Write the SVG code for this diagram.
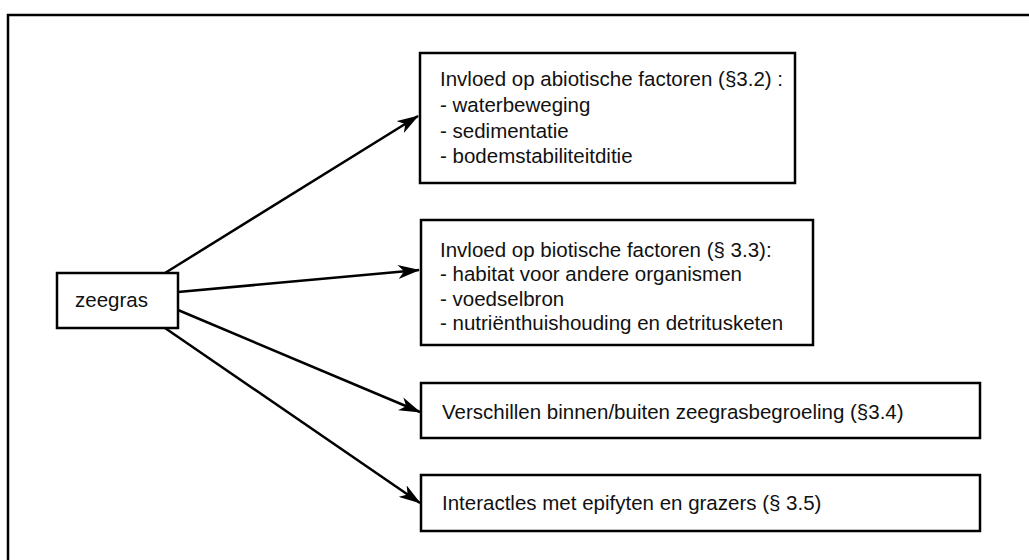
<svg xmlns="http://www.w3.org/2000/svg" width="1029" height="560" viewBox="0 0 1029 560">
<style>
.box{fill:#fff;stroke:#000;stroke-width:2.5}
.t{font-family:"Liberation Sans",Arial,sans-serif;font-size:20.5px;fill:#111}
.c{stroke:#000;stroke-width:2.5;fill:none}
</style>
<defs>
<marker id="ah" viewBox="0 0 22 14" refX="21" refY="7" markerWidth="22" markerHeight="14" markerUnits="userSpaceOnUse" orient="auto">
<path d="M0,0 L22,7 L0,14 L6,7 Z" fill="#000"/>
</marker>
</defs>
<rect width="1029" height="560" fill="#fff"/>
<g id="frame">
<path d="M8,560 L8,15 L1029,15" fill="none" stroke="#000" stroke-width="2.5"/>
</g>
<g id="connectors">
<line class="c" x1="165" y1="273" x2="418" y2="116" marker-end="url(#ah)"/>
<line class="c" x1="178" y1="292" x2="419" y2="270" marker-end="url(#ah)"/>
<line class="c" x1="178" y1="310" x2="420" y2="412" marker-end="url(#ah)"/>
<line class="c" x1="165" y1="328" x2="420" y2="503" marker-end="url(#ah)"/>
</g>
<g id="zeegras">
<rect class="box" x="57" y="273" width="121" height="55"/>
<text class="t" x="75" y="307">zeegras</text>
</g>
<g id="abiotisch">
<rect class="box" x="420" y="53" width="375" height="130"/>
<text class="t" x="440" y="86">Invloed op abiotische factoren (§3.2) :</text>
<text class="t" x="440" y="112">- waterbeweging</text>
<text class="t" x="440" y="138">- sedimentatie</text>
<text class="t" x="440" y="163">- bodemstabiliteitditie</text>
</g>
<g id="biotisch">
<rect class="box" x="421" y="220" width="392" height="125"/>
<text class="t" x="440" y="257">Invloed op biotische factoren (§ 3.3):</text>
<text class="t" x="440" y="281">- habitat voor andere organismen</text>
<text class="t" x="440" y="306">- voedselbron</text>
<text class="t" x="440" y="330">- nutriënthuishouding en detritusketen</text>
</g>
<g id="verschillen">
<rect class="box" x="421" y="383" width="559" height="55"/>
<text class="t" x="442" y="419">Verschillen binnen/buiten zeegrasbegroeling (§3.4)</text>
</g>
<g id="interacties">
<rect class="box" x="421" y="475" width="559" height="56"/>
<text class="t" x="442" y="510">Interactles met epifyten en grazers (§ 3.5)</text>
</g>
</svg>
